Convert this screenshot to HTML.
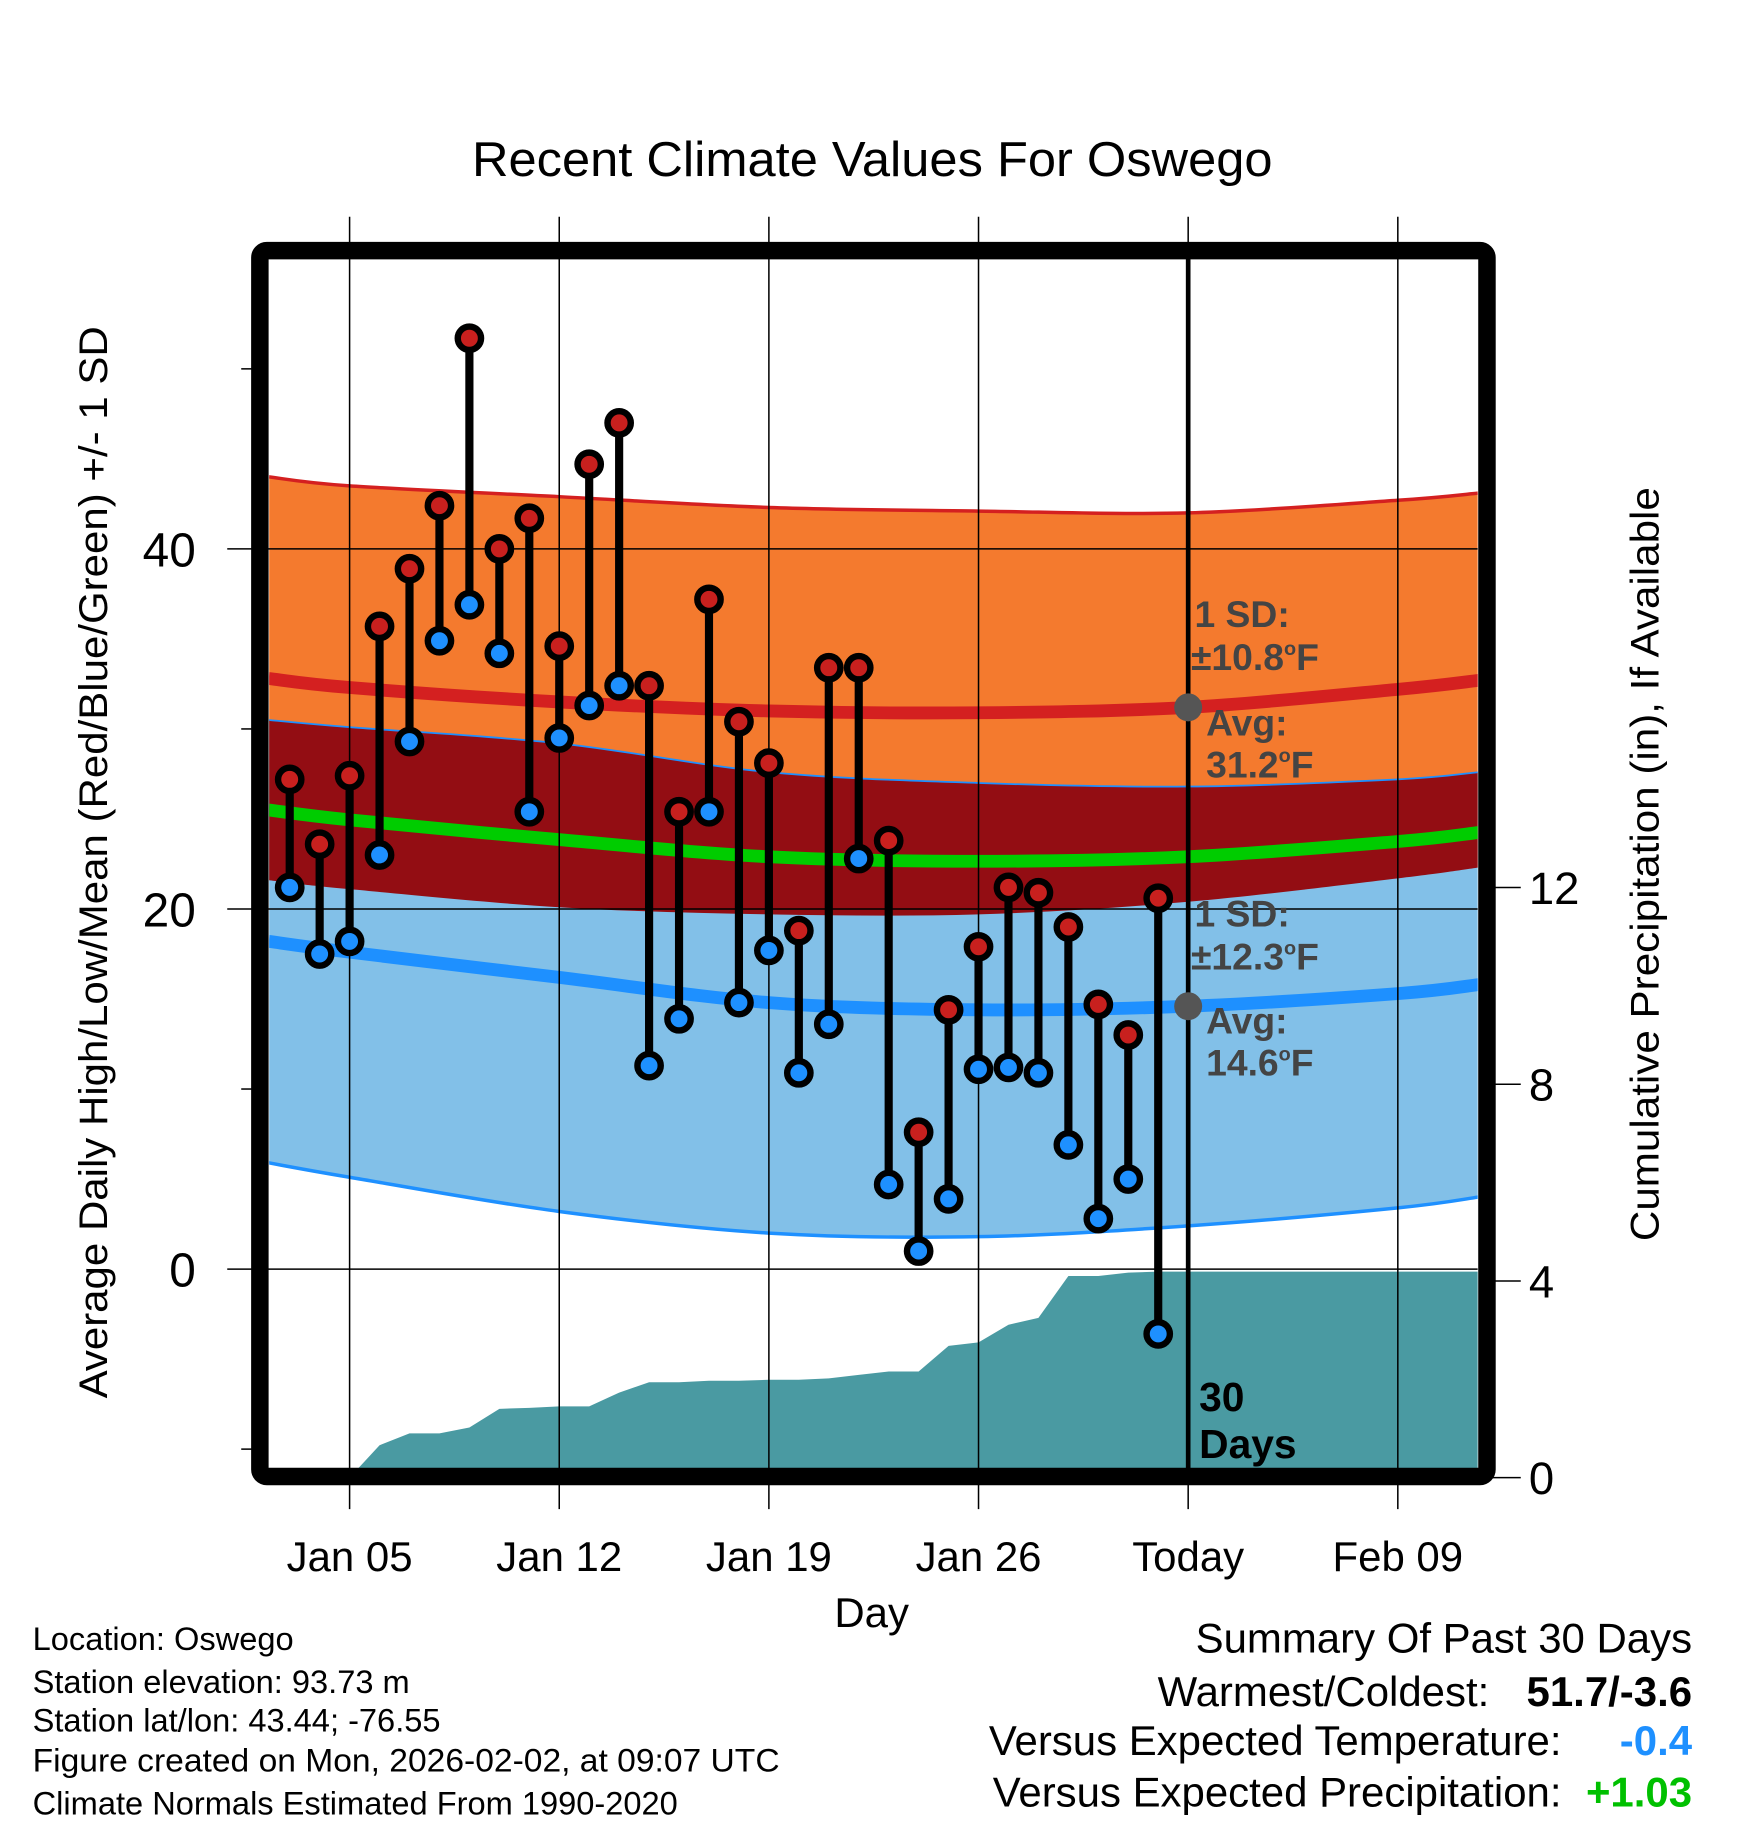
<!DOCTYPE html>
<html><head><meta charset="utf-8"><style>html,body{margin:0;padding:0;background:#fff}svg{display:block}text{font-family:"Liberation Sans",sans-serif}</style></head>
<body>
<svg id="chart" width="1748" height="1828" viewBox="0 0 1500 1568.6" xmlns="http://www.w3.org/2000/svg">
<defs><clipPath id="plotclip"><rect x="231" y="222" width="1037" height="1038"/></clipPath></defs>
<text x="405" y="151" font-size="42" textLength="687" lengthAdjust="spacingAndGlyphs">Recent Climate Values For Oswego</text>
<g id="bands" clip-path="url(#plotclip)"></g>
<g id="grid"></g>
<g id="marks" clip-path="url(#plotclip)"></g>
<rect x="223" y="215" width="1053" height="1052" rx="6" fill="none" stroke="#000" stroke-width="15"/>
<g id="labels"></g>
<text transform="translate(92,1200) rotate(-90)" font-size="34" textLength="920" lengthAdjust="spacingAndGlyphs">Average Daily High/Low/Mean (Red/Blue/Green) +/- 1 SD</text>
<text transform="translate(1423,1065) rotate(-90)" font-size="34" textLength="647" lengthAdjust="spacingAndGlyphs">Cumulative Precipitation (in), If Available</text>
<text x="748" y="1396" font-size="36" text-anchor="middle">Day</text>
<g font-size="28">
<text x="28" y="1416">Location: Oswego</text>
<text x="28" y="1453">Station elevation: 93.73 m</text>
<text x="28" y="1486">Station lat/lon: 43.44; -76.55</text>
<text x="28" y="1520" textLength="641" lengthAdjust="spacingAndGlyphs">Figure created on Mon, 2026-02-02, at 09:07 UTC</text>
<text x="28" y="1557">Climate Normals Estimated From 1990-2020</text>
</g>
<g font-size="36" text-anchor="end">
<text x="1452" y="1418">Summary Of Past 30 Days</text>
<text x="1278" y="1464">Warmest/Coldest:</text>
<text x="1452" y="1464" font-weight="bold">51.7/-3.6</text>
<text x="1340" y="1506">Versus Expected Temperature:</text>
<text x="1452" y="1506" font-weight="bold" fill="#1E90FF">-0.4</text>
<text x="1340" y="1550">Versus Expected Precipitation:</text>
<text x="1452" y="1550" font-weight="bold" fill="#00C000">+1.03</text>
</g>
</svg>
<script>
const days=[3,4,5,6,7,8,9,10,11,12,13,14,15,16,17,18,19,20,21,22,23,24,25,26,27,28,29,30,31,32];
const highs=[27.2,23.6,27.4,35.7,38.9,42.4,51.7,40.0,41.7,34.6,44.7,47.0,32.4,25.4,37.2,30.4,28.1,18.8,33.4,33.4,23.8,7.6,14.4,17.9,21.2,20.9,19.0,14.7,13.0,20.6];
const lows=[21.2,17.5,18.2,23.0,29.3,34.9,36.9,34.2,25.4,29.5,31.3,32.4,11.3,13.9,25.4,14.8,17.7,10.9,13.6,22.8,4.7,1.0,3.9,11.1,11.2,10.9,6.9,2.8,5.0,-3.6];
const precip=[0,0,0,0.66,0.90,0.90,1.02,1.40,1.42,1.45,1.45,1.73,1.94,1.94,1.97,1.97,1.99,1.99,2.02,2.09,2.16,2.16,2.68,2.75,3.11,3.25,4.10,4.10,4.17,4.19];
const normDays=[2.3,5,12,19,26,33,40,42.7];
const highAvg=[32.8,32.3,31.5,31.0,30.9,31.2,32.2,32.7];
const highSD=[11.2,11.2,11.4,11.3,11.2,10.8,10.5,10.4];
const lowAvg=[18.2,17.6,16.2,14.8,14.4,14.6,15.3,15.8];
const lowSD=[12.3,12.5,13.0,12.8,12.6,12.2,11.9,11.8];
const xTickDays=[5,12,19,26,33,40];
const xTickLabels=["Jan 05","Jan 12","Jan 19","Jan 26","Today","Feb 09"];
const yTicks=[0,20,40];
const yMinor=[-10,10,30,50];
const pTicks=[0,4,8,12];
const todayDay=33;

const NS="http://www.w3.org/2000/svg";
const X=d=>300+(d-5)*25.7;
const Y=t=>1089-t*15.45;
const P=p=>1268-p*42.2;
function mk(tag,attrs,parent){const e=document.createElementNS(NS,tag);for(const k in attrs)e.setAttribute(k,attrs[k]);parent.appendChild(e);return e;}
function smooth(pts){let d="M"+pts[0][0]+","+pts[0][1];for(let i=0;i<pts.length-1;i++){const p0=pts[i-1]||pts[i],p1=pts[i],p2=pts[i+1],p3=pts[i+2]||p2;const c1=[p1[0]+(p2[0]-p0[0])/6,p1[1]+(p2[1]-p0[1])/6],c2=[p2[0]-(p3[0]-p1[0])/6,p2[1]-(p3[1]-p1[1])/6];d+=" C"+c1+" "+c2+" "+p2;}return d;}
function curve(vals){return normDays.map((d,i)=>[X(d),Y(vals[i])]);}
function bandPath(up,lo){const a=curve(up),b=curve(lo).reverse();return smooth(a)+" L"+smooth(b).slice(1)+" Z";}
const bands=document.getElementById('bands');
const hU=highAvg.map((v,i)=>v+highSD[i]),hL=highAvg.map((v,i)=>v-highSD[i]);
const lU=lowAvg.map((v,i)=>v+lowSD[i]),lL=lowAvg.map((v,i)=>v-lowSD[i]);
const meanV=highAvg.map((v,i)=>(v+lowAvg[i])/2);
let e;
e=mk('path',{d:bandPath(hU,hL),fill:'#F47A2E'},bands);


e=mk('path',{d:bandPath(lU,lL),fill:'#82C0E8'},bands);


e=mk('path',{d:bandPath(lU,hL),fill:'#930D13'},bands);


e=mk('path',{d:smooth(curve(hU)),fill:'none',stroke:'#D42020','stroke-width':3},bands);


e=mk('path',{d:smooth(curve(lU)),fill:'none',stroke:'#1E90FF','stroke-width':1.5},bands);


e=mk('path',{d:smooth(curve(lL)),fill:'none',stroke:'#1E90FF','stroke-width':3},bands);


e=mk('path',{d:smooth(curve(highAvg)),fill:'none',stroke:'#D42020','stroke-width':11},bands);


e=mk('path',{d:smooth(curve(lowAvg)),fill:'none',stroke:'#1E90FF','stroke-width':11},bands);


e=mk('path',{d:smooth(curve(meanV)),fill:'none',stroke:'#00CC00','stroke-width':11},bands);


let pd="M"+X(2)+","+P(0);
days.forEach((d,i)=>{pd+=" L"+X(d)+","+P(precip[i]);});
const lastP=precip[precip.length-1];
pd+=" L"+X(todayDay)+","+P(lastP)+" L"+X(44)+","+P(lastP)+" L"+X(44)+","+P(0)+" Z";
e=mk('path',{d:pd,fill:'#4A9AA2'},bands);



const grid=document.getElementById('grid');
xTickDays.forEach(d=>{e=mk('line',{x1:X(d),x2:X(d),y1:186,y2:1295,stroke:'#000','stroke-width':1.3},grid);

});
yTicks.forEach(t=>{e=mk('line',{x1:195,x2:1268,y1:Y(t),y2:Y(t),stroke:'#000','stroke-width':1.3},grid);

});
yMinor.forEach(t=>{e=mk('line',{x1:207,x2:220,y1:Y(t),y2:Y(t),stroke:'#000','stroke-width':1.3},grid);

});
pTicks.forEach(p=>{e=mk('line',{x1:1280,x2:1305,y1:P(p),y2:P(p),stroke:'#000','stroke-width':1.3},grid);

});

const marks=document.getElementById('marks');
days.forEach((d,i)=>{
 e=mk('line',{x1:X(d),x2:X(d),y1:Y(highs[i]),y2:Y(lows[i]),stroke:'#000','stroke-width':7},marks);
 
 
});
days.forEach((d,i)=>{
 e=mk('circle',{cx:X(d),cy:Y(lows[i]),r:10,fill:'#1E90FF',stroke:'#000','stroke-width':5.5},marks);
 
 
 e=mk('circle',{cx:X(d),cy:Y(highs[i]),r:10,fill:'#C8201E',stroke:'#000','stroke-width':5.5},marks);
 
 
});
e=mk('line',{x1:X(todayDay),x2:X(todayDay),y1:222,y2:1260,stroke:'#000','stroke-width':4},marks);


const todayHigh=highAvg[5],todayLow=lowAvg[5];
e=mk('circle',{cx:X(todayDay),cy:Y(todayHigh),r:12,fill:'#555'},marks);


e=mk('circle',{cx:X(todayDay),cy:Y(todayLow),r:12,fill:'#555'},marks);


function ann(x,y,txt,fill,name,size){const t=mk('text',{x:x,y:y,'font-size':size||32,'font-weight':'bold',fill:fill},marks);t.innerHTML=txt;
 
 }
const deg='<tspan font-size="17" dy="-13">o</tspan><tspan dy="13">F</tspan>';
ann(1025,538,'1 SD:','#444','high-sd-label');
ann(1022,575,'±10.8'+deg,'#444','high-sd-value');
ann(1035,631,'Avg:','#444','high-avg-label');
ann(1035,667,'31.2'+deg,'#444','high-avg-value');
ann(1025,795,'1 SD:','#444','low-sd-label');
ann(1022,832,'±12.3'+deg,'#444','low-sd-value');
ann(1035,887,'Avg:','#444','low-avg-label');
ann(1035,923,'14.6'+deg,'#444','low-avg-value');
ann(1029,1211,'30','#000','days-label',35);
ann(1029,1251,'Days','#000','days-label-2',35);

const labels=document.getElementById('labels');
xTickDays.forEach((d,i)=>{e=mk('text',{x:X(d),y:1348,'font-size':36,'text-anchor':'middle'},labels);e.textContent=xTickLabels[i];

});
yTicks.forEach(t=>{e=mk('text',{x:168,y:Y(t)+15,'font-size':41,'text-anchor':'end'},labels);e.textContent=t;

});
pTicks.forEach(p=>{e=mk('text',{x:1312,y:P(p)+14,'font-size':39},labels);e.textContent=p;

});
</script>
</body></html>
